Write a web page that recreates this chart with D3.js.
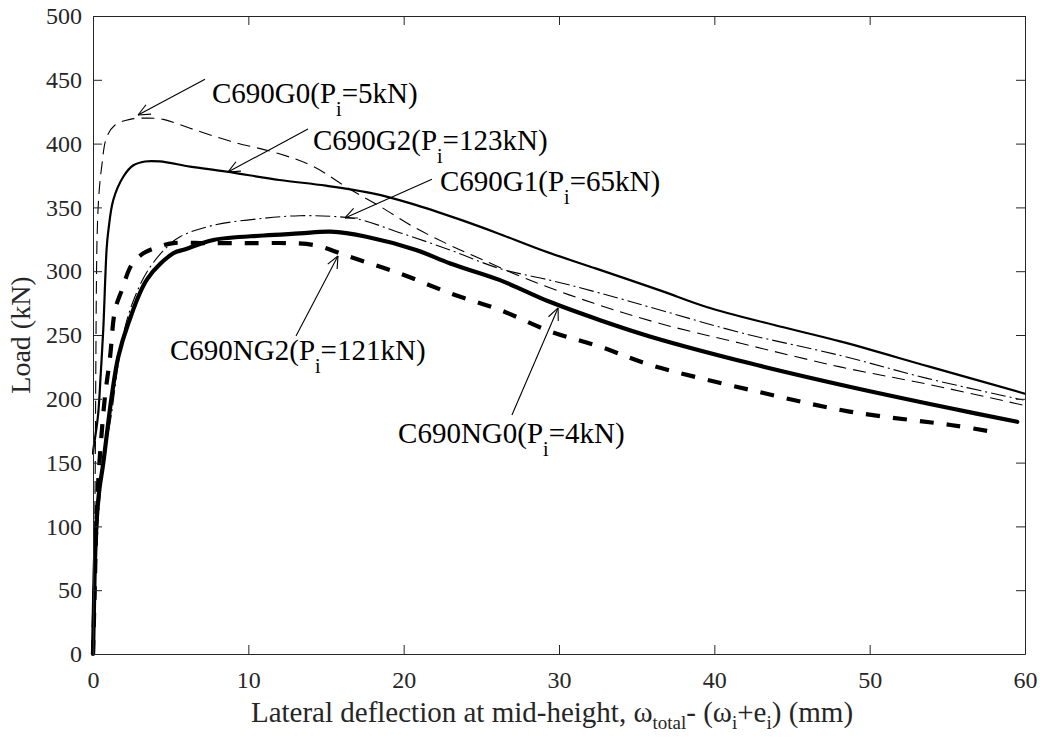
<!DOCTYPE html>
<html>
<head>
<meta charset="utf-8">
<script src="https://cdn.jsdelivr.net/npm/d3@7"></script>
<style>
  html, body { margin: 0; padding: 0; background: #fff; }
  svg text { font-family: "Liberation Serif", "Times New Roman", serif; }
</style>
</head>
<body>
<svg id="chart" width="1043" height="740"></svg>
<script>
// Load versus lateral deflection at mid-height for five C690 columns
const xTicks = [0, 10, 20, 30, 40, 50, 60];
const yTicks = [0, 50, 100, 150, 200, 250, 300, 350, 400, 450, 500];

const g0X = [0, 0.08, 0.14, 0.18, 0.22, 0.27, 0.38, 0.56, 0.88, 1.42, 2.38, 3.5, 4.53, 6.25, 8.8, 12, 14.2, 16.3, 18.5, 20.6, 22.7, 24.9, 27.9, 32.2, 36.5, 41.7, 48.1, 53.9, 59.9];
const g0Y = [0, 60, 140, 220, 290, 330, 360, 382, 405, 414.6, 419, 420, 419, 412, 402, 392, 382, 366, 350.6, 335, 322, 310, 294, 275, 259, 243.5, 225, 211, 195];

const g2X = [0, 0.02, 0.2, 0.34, 0.5, 0.66, 0.88, 0.99, 1.31, 1.95, 2.6, 3.35, 4.3, 6.25, 8.6, 12, 15, 18, 20.5, 23.5, 26, 29, 32.4, 36.5, 39.5, 43.8, 48.1, 53.9, 60];
const g2Y = [157, 160, 175, 189, 220, 254, 318, 332, 356, 374, 383, 386, 386, 382, 378, 371.5, 367, 361, 353, 341, 330, 316, 302, 285, 272, 258, 245, 225, 204];

const g1X = [0, 0.1, 0.25, 0.5, 0.8, 1.2, 1.63, 2.1, 2.7, 3.5, 4.6, 5.6, 7.75, 11, 13.3, 15.3, 17, 19.8, 23, 26.2, 29.4, 32.6, 36.5, 41.7, 48.1, 53.7, 59.9];
const g1Y = [0, 40, 90, 130, 160, 189, 228, 258, 280, 300, 317, 327, 336, 341.5, 343.5, 343, 341, 330, 316.6, 302, 293, 283, 269.6, 251.8, 234, 216, 199];

const ng0X = [0, 0.05, 0.12, 0.24, 0.4, 0.66, 1.2, 1.63, 2.27, 3.5, 5.17, 5.9, 7.75, 11, 13.3, 15.3, 17.6, 20.8, 23, 26.2, 29.4, 32.6, 35.9, 42.3, 48.7, 55.2, 59.5];
const ng0Y = [0, 30, 70, 105, 128, 149.5, 201.6, 233, 259, 294, 314, 317, 324.5, 328, 329.6, 331, 327, 316.6, 306, 293, 276, 261.8, 248.7, 227.8, 209.5, 192.6, 182];

const ng2X = [0, 0.1, 0.2, 0.34, 0.55, 0.77, 1.1, 1.42, 1.85, 2.49, 3.24, 4.2, 5.17, 7.3, 9.9, 14.2, 16.5, 19.8, 23, 26.2, 29.4, 32.6, 35.9, 42.3, 48.7, 55.2, 58];
const ng2Y = [0, 45, 95, 136, 172, 201.6, 233, 269.6, 285, 305, 314, 319, 322, 322, 322, 320.5, 311.4, 298, 282.7, 269.6, 253, 241, 226.5, 207, 190, 179.5, 174];

const seriesNames = ["C690G0", "C690G2", "C690G1", "C690NG0", "C690NG2"];
const preloads = ["5kN", "123kN", "65kN", "4kN", "121kN"];

const width = 1043, height = 740;
const margin = { left: 93, right: 18, top: 16, bottom: 86 };

const x = d3.scaleLinear().domain([0, 60]).range([margin.left, width - margin.right]);
const y = d3.scaleLinear().domain([0, 500]).range([height - margin.bottom, margin.top]);

const svg = d3.select("#chart");
const axisColor = "#262626";

const zip = (xs, ys) => xs.map((v, i) => [v, ys[i]]);
const line = d3.line().x(d => x(d[0])).y(d => y(d[1])).curve(d3.curveCatmullRom.alpha(0.5));

const series = [
  { name: seriesNames[0], pts: zip(g0X, g0Y), w: 1.1, dash: "13,7", cap: "butt" },
  { name: seriesNames[2], pts: zip(g1X, g1Y), w: 1.1, dash: "15,4,2,4", cap: "butt" },
  { name: seriesNames[1], pts: zip(g2X, g2Y), w: 2.2, dash: null, cap: "round" },
  { name: seriesNames[3], pts: zip(ng0X, ng0Y), w: 4.2, dash: null, cap: "round" },
  { name: seriesNames[4], pts: zip(ng2X, ng2Y), w: 4.2, dash: "14,13", cap: "butt" }
];

const plot = svg.append("g");
plot.selectAll("path.curve")
  .data(series)
  .join("path")
  .attr("class", "curve")
  .attr("d", d => line(d.pts))
  .attr("fill", "none")
  .attr("stroke", "#000")
  .attr("stroke-width", d => d.w)
  .attr("stroke-dasharray", d => d.dash)
  .attr("stroke-linecap", d => d.cap)
  .attr("stroke-linejoin", "round");

// Axes: box with inward ticks on all four sides
const tickLen = 9;
const axes = svg.append("g");
function styleAxis(g) {
  g.select(".domain").attr("stroke", axisColor).attr("stroke-width", 1);
  g.selectAll(".tick line").attr("stroke", axisColor).attr("stroke-width", 1);
  g.selectAll(".tick text").attr("fill", axisColor).attr("font-size", 24)
    .attr("font-family", "Liberation Serif, Times New Roman, serif");
}
axes.append("g")
  .attr("transform", `translate(0,${y(0)})`)
  .call(d3.axisBottom(x).tickValues(xTicks).tickSizeInner(-tickLen).tickSizeOuter(0).tickPadding(17).tickFormat(d3.format("d")))
  .call(styleAxis);
axes.append("g")
  .attr("transform", `translate(0,${y(500)})`)
  .call(d3.axisTop(x).tickValues(xTicks).tickSizeInner(-tickLen).tickSizeOuter(0).tickFormat(""))
  .call(styleAxis);
axes.append("g")
  .attr("transform", `translate(${x(0)},0)`)
  .call(d3.axisLeft(y).tickValues(yTicks).tickSizeInner(-tickLen).tickSizeOuter(0).tickPadding(11).tickFormat(d3.format("d")))
  .call(styleAxis);
axes.append("g")
  .attr("transform", `translate(${x(60)},0)`)
  .call(d3.axisRight(y).tickValues(yTicks).tickSizeInner(-tickLen).tickSizeOuter(0).tickFormat(""))
  .call(styleAxis);

// Axis titles
const xTitle = svg.append("text")
  .attr("x", 552).attr("y", 722)
  .attr("text-anchor", "middle")
  .attr("font-size", 29)
  .attr("fill", axisColor);
xTitle.append("tspan").text("Lateral deflection at mid-height, ω");
xTitle.append("tspan").attr("font-size", 19).attr("dy", 7).text("total");
xTitle.append("tspan").attr("dy", -7).text("- (ω");
xTitle.append("tspan").attr("font-size", 19).attr("dy", 7).text("i");
xTitle.append("tspan").attr("dy", -7).text("+e");
xTitle.append("tspan").attr("font-size", 19).attr("dy", 7).text("i");
xTitle.append("tspan").attr("dy", -7).text(") (mm)");

svg.append("text")
  .attr("transform", `translate(30,${(y(0) + y(500)) / 2}) rotate(-90)`)
  .attr("text-anchor", "middle")
  .attr("font-size", 28)
  .attr("fill", axisColor)
  .text("Load (kN)");

// Curve annotations with open-headed arrows (positions in data units)
const notes = [
  { i: 0, tx: 7.66, ty: 431.5, tip: [2.9, 422.4], tail: [7.21, 450.5] },
  { i: 1, tx: 14.16, ty: 395, tip: [8.69, 377.7], tail: [13.84, 411.5] },
  { i: 2, tx: 22.34, ty: 362.5, tip: [16.22, 341.7], tail: [21.82, 372] },
  { i: 4, tx: 4.96, ty: 230.4, tip: [15.77, 311.9], tail: [13.07, 249.2] },
  { i: 3, tx: 19.64, ty: 165.4, tip: [29.94, 271.2], tail: [26.97, 187.3] }
];

const ann = svg.append("g");
notes.forEach(n => {
  const t = ann.append("text")
    .attr("x", x(n.tx)).attr("y", y(n.ty))
    .attr("font-size", 29)
    .attr("fill", "#000");
  t.append("tspan").text(seriesNames[n.i] + "(P");
  t.append("tspan").attr("font-size", 20).attr("dy", 13).text("i");
  t.append("tspan").attr("dy", -13).text("=" + preloads[n.i] + ")");

  const x1 = x(n.tail[0]), y1 = y(n.tail[1]);
  const x2 = x(n.tip[0]), y2 = y(n.tip[1]);
  ann.append("line")
    .attr("x1", x1).attr("y1", y1).attr("x2", x2).attr("y2", y2)
    .attr("stroke", "#000").attr("stroke-width", 1.1);
  const ang = Math.atan2(y2 - y1, x2 - x1);
  const hl = 13, ha = 0.42;
  [ang + Math.PI - ha, ang + Math.PI + ha].forEach(a => {
    ann.append("line")
      .attr("x1", x2).attr("y1", y2)
      .attr("x2", x2 + hl * Math.cos(a)).attr("y2", y2 + hl * Math.sin(a))
      .attr("stroke", "#000").attr("stroke-width", 1.1);
  });
});
</script>
</body>
</html>
